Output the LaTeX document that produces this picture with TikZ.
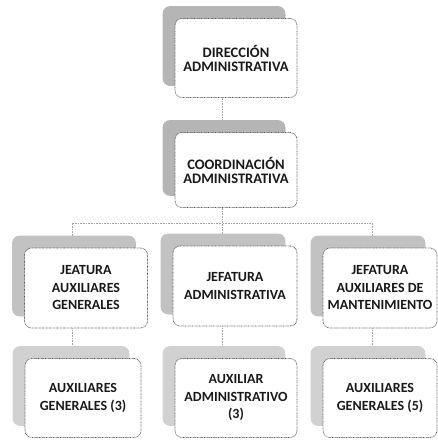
\documentclass[tikz,border=0pt]{standalone}
\usepackage{fontspec}
\setmainfont{Carlito}
\usetikzlibrary{shadows,backgrounds,calc}

\tikzset{
  unit/.style={draw=black!65, dash pattern=on 0.7pt off 0.7pt, line width=0.7pt, rounded corners=7pt, fill=white,
    align=center, inner sep=0pt, text=black!90,
    font=\bfseries\fontsize{14}{17.5}\selectfont,
    copy shadow={shadow xshift=-12pt, shadow yshift=12pt, fill=#1, draw=#1, solid}},
  unit/.default=gray!45,
  link/.style={draw=gray!70, densely dotted, line width=0.6pt}
}

\begin{document}
\begin{tikzpicture}[x=1pt, y=-1pt]
  \useasboundingbox (0,0) rectangle (438,440);

  % top levels
  \node[unit=gray!58, minimum width=122pt, minimum height=79pt,
        font=\bfseries\fontsize{14.5}{14}\selectfont] (dir) at (236,58) {DIRECCIÓN\\ADMINISTRATIVA};
  \node[unit=gray!58, minimum width=122pt, minimum height=75pt,
        font=\bfseries\fontsize{14.5}{14}\selectfont] (coord) at (236,170) {COORDINACIÓN\\ADMINISTRATIVA};

  % jefaturas
  \node[unit=gray!48, minimum width=123pt, minimum height=80pt] (jaux) at (86,288) {JEATURA\\AUXILIARES\\GENERALES};
  \node[unit=gray!48, minimum width=124pt, minimum height=80pt] (jadm) at (235,286) {JEFATURA\\ADMINISTRATIVA};
  \node[unit=gray!48, minimum width=114pt, minimum height=80pt] (jman) at (380,288) {JEFATURA\\AUXILIARES DE\\MANTENIMIENTO};

  % auxiliares
  \node[unit=gray!36, minimum width=116pt, minimum height=79pt] (aux3) at (83,398) {AUXILIARES\\GENERALES (3)};
  \node[unit=gray!36, minimum width=122pt, minimum height=79pt] (aadm) at (236,398) {AUXILIAR\\ADMINISTRATIVO\\(3)};
  \node[unit=gray!36, minimum width=114pt, minimum height=79pt] (aux5) at (380,398) {AUXILIARES\\GENERALES (5)};

  \coordinate (d1) at ([xshift=-14pt]jaux.south);
  \coordinate (d2) at ([xshift=-13pt]jadm.south);
  \coordinate (d3) at ([xshift=-8pt]jman.south);

  \begin{scope}[on background layer]
    \draw[link] ([xshift=-14pt]dir.south) -- ([xshift=-14pt]coord.north);
    \draw[link] ([xshift=-14pt]coord.south) -- ++(0,15) -| ([xshift=-14pt]jaux.north);
    \draw[link] ([xshift=-14pt]coord.south) -- ++(0,15) -| ([xshift=-13pt]jadm.north);
    \draw[link] ([xshift=-14pt]coord.south) -- ++(0,15) -| ([xshift=-8pt]jman.north);
    \draw[link] (d1) -- (d1 |- aux3.north);
    \draw[link] (d2) -- (d2 |- aadm.north);
    \draw[link] (d3) -- (d3 |- aux5.north);
  \end{scope}
\end{tikzpicture}
\end{document}
